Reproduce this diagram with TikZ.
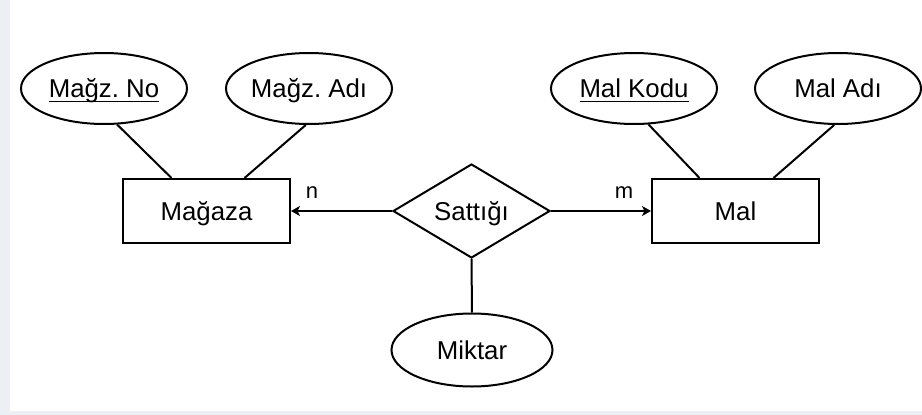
\documentclass[tikz,border=0pt]{standalone}
\usepackage{fontspec}
\setmainfont{Liberation Sans}
\usetikzlibrary{shapes.geometric,arrows.meta,calc}
\definecolor{strip}{RGB}{236,239,243}
\frenchspacing
% key attribute: text with a rule just under the baseline
\newcommand\keyattr[1]{\setbox0\hbox{#1}\rlap{\rule[-4.5pt]{\wd0}{1.7pt}}\box0}
\begin{document}
\begin{tikzpicture}[x=1pt,y=-1pt,
  every node/.style={font=\fontsize{25.8}{30}\selectfont, inner sep=0pt,
    text height=18.5pt, text depth=0pt},
  attr/.style={draw, line width=2pt, ellipse, minimum width=166pt, minimum height=71pt},
  entity/.style={draw, line width=2pt, rectangle, minimum width=167pt, minimum height=64pt},
  relation/.style={draw, line width=2pt, diamond, minimum width=157pt, minimum height=94pt},
  link/.style={line width=2pt},
  card/.style={font=\fontsize{22}{26}\selectfont, anchor=base, text height=, text depth=},
  tip/.style={-{Stealth[length=9pt,width=10pt,inset=2.5pt]}}]
\fill[white] (0,0) rectangle (922,415);
\fill[strip] (0,0) rectangle (10,415);
\fill[strip] (0,411) rectangle (922,415);
\useasboundingbox (0,0) rectangle (922,415);

% entities
\node[entity] (mag) at (206.5,211) {Mağaza};
\node[entity] (mal) at (735.5,211) {Mal};

% attributes
\node[attr] (magno) at (104,88.5) {\keyattr{Mağz. No}};
\node[attr] (magadi) at (309,88.5) {Mağz. Adı};
\node[attr] (malkod) at (634,88.5) {\keyattr{Mal Kodu}};
\node[attr] (maladi) at (838,88.5) {Mal Adı};

% relationship and its attribute
\node[relation] (sat) at (471.5,211) {Sattığı};
\node[attr, minimum width=161pt, minimum height=73pt] (mik) at (472,350) {Miktar};

% cardinalities
\node[card] (n) at (312,198) {n};
\node[card] (m) at (624,198) {m};

% connectors
\draw[link] (magno.-70) -- ($(mag.north)+(-35,0)$);
\draw[link] (magadi.-95) -- ($(mag.north)+(38,0)$);
\draw[link] (malkod.-68) -- ($(mal.north)+(-36,0)$);
\draw[link] (maladi.-96) -- ($(mal.north)+(38,0)$);
\draw[link,tip] (sat.west) -- (mag.east);
\draw[link,tip] (sat.east) -- (mal.west);
\draw[link] (sat.south) -- (mik.north);
\end{tikzpicture}
\end{document}
